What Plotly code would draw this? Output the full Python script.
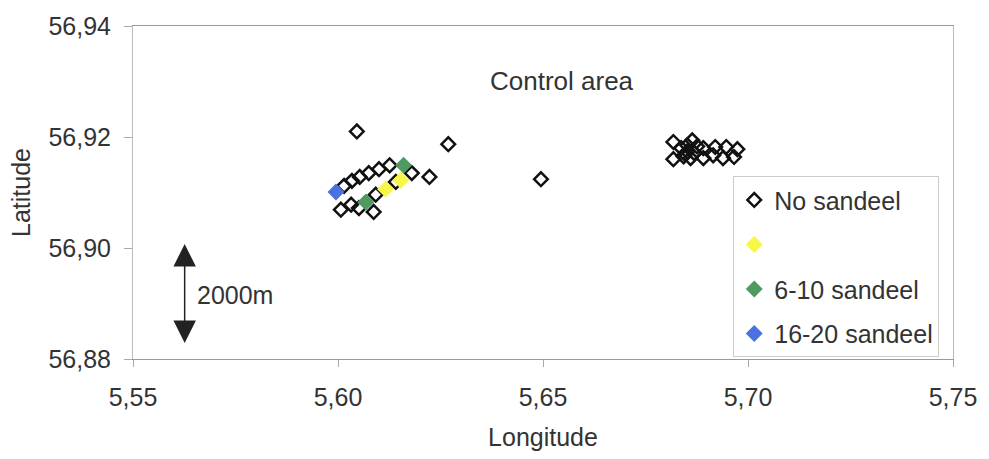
import plotly.graph_objects as go

# Data
no_lon = [5.6046, 5.6269, 5.6495, 5.6223,
          5.6015, 5.6034, 5.6053, 5.6075, 5.6100, 5.6126, 5.6180,
          5.6007, 5.6032, 5.6051, 5.6087, 5.6092, 5.6141,
          5.6818, 5.6837, 5.6852, 5.6864, 5.6876, 5.6891, 5.6920, 5.6947, 5.6974,
          5.6818, 5.6843, 5.6860, 5.6869, 5.6891, 5.6915, 5.6939, 5.6966, 5.6852, 5.6847]
no_lat = [56.9210, 56.9187, 56.9124, 56.9128,
          56.9112, 56.9121, 56.9128, 56.9135, 56.9142, 56.9149, 56.9135,
          56.9069, 56.9078, 56.9072, 56.9065, 56.9096, 56.9119,
          56.9191, 56.9180, 56.9185, 56.9194, 56.9183, 56.9180, 56.9182, 56.9182, 56.9178,
          56.9160, 56.9165, 56.9162, 56.9171, 56.9162, 56.9167, 56.9162, 56.9164, 56.9174, 56.9169]
yel_lon = [5.6116, 5.6153]
yel_lat = [56.9106, 56.9122]
grn_lon = [5.6068, 5.6160]
grn_lat = [56.9083, 56.9149]
blu_lon = [5.5995]
blu_lat = [56.9101]

x_ticks = [5.55, 5.60, 5.65, 5.70, 5.75]
y_ticks = [56.88, 56.90, 56.92, 56.94]

FONT = "Liberation Sans, Arial, sans-serif"
FS = 25

fig = go.Figure()
fig.add_trace(go.Scatter(x=no_lon, y=no_lat, mode="markers", name="No sandeel",
                         legendgroup="a",
                         marker=dict(symbol="diamond-open", size=10.5, color="#111111",
                                     line=dict(width=2.5, color="#111111"))))
fig.add_trace(go.Scatter(x=yel_lon, y=yel_lat, mode="markers", name=" ",
                         legendgroup="b",
                         marker=dict(symbol="diamond", size=13, color="#f7f74a")))
fig.add_trace(go.Scatter(x=grn_lon, y=grn_lat, mode="markers", name="6-10 sandeel",
                         legendgroup="c",
                         marker=dict(symbol="diamond", size=13, color="#4e9a60")))
fig.add_trace(go.Scatter(x=blu_lon, y=blu_lat, mode="markers", name="16-20 sandeel",
                         legendgroup="d",
                         marker=dict(symbol="diamond", size=13, color="#4a72e0")))

fig.add_annotation(x=5.5626, y=56.9007, ax=5.5626, ay=56.8826, xref="x", yref="y",
                   axref="x", ayref="y", showarrow=True, arrowhead=2, arrowside="end+start",
                   arrowsize=3.0, arrowwidth=1.5, arrowcolor="#222222", text="")
fig.add_annotation(x=5.5652, y=56.8915, xref="x", yref="y", text="2000m", showarrow=False,
                   xanchor="left", yanchor="middle",
                   font=dict(size=FS, color="#333333", family=FONT))
fig.add_annotation(x=0.523, y=0.836, xref="paper", yref="paper", text="Control area",
                   showarrow=False, xanchor="center", yanchor="middle",
                   font=dict(size=26, color="#333333", family=FONT))

fig.update_layout(
    width=989, height=459,
    margin=dict(l=133, r=31, t=25, b=99),
    paper_bgcolor="white", plot_bgcolor="white",
    separators=",.",
    font=dict(family=FONT, size=FS, color="#333333"),
    showlegend=True,
    legend=dict(x=0.732, y=0.549, xanchor="left", yanchor="top",
                bordercolor="#cccccc", borderwidth=1, bgcolor="white",
                font=dict(size=FS, color="#333333", family=FONT),
                tracegroupgap=9, itemwidth=30),
    xaxis=dict(range=[5.55, 5.75], tickvals=x_ticks, tickformat=".2f",
               showgrid=False, zeroline=False, showline=True, linecolor="#999999",
               mirror=True, ticks="outside", ticklen=7, tickcolor="#aaaaaa",
               ticklabelstandoff=9,
               title=dict(text="Longitude", font=dict(size=FS), standoff=18),
               tickfont=dict(size=FS)),
    yaxis=dict(range=[56.88, 56.94], tickvals=y_ticks, tickformat=".2f",
               showgrid=False, zeroline=False, showline=True, linecolor="#bbbbbb",
               mirror=True, ticks="outside", ticklen=8, tickcolor="#aaaaaa",
               ticklabelstandoff=8,
               title=dict(text="Latitude", font=dict(size=FS), standoff=10),
               tickfont=dict(size=FS)),
)

fig.write_html("out.html")
